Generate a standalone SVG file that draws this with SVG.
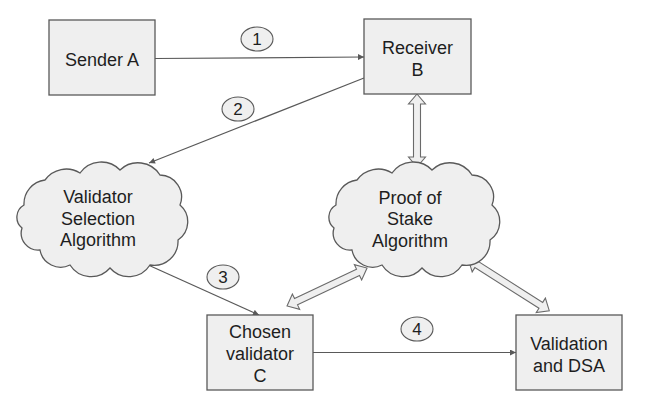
<svg xmlns="http://www.w3.org/2000/svg" width="648" height="409" viewBox="0 0 648 409">
<defs>
<style>
.box{fill:#efefef;stroke:#595959;stroke-width:1.3}
.t{font-family:"Liberation Sans",Arial,sans-serif;font-size:18px;fill:#1e1e1e;text-anchor:middle}
.n{font-family:"Liberation Sans",Arial,sans-serif;font-size:17px;fill:#1e1e1e;text-anchor:middle}
.lbl{fill:#efefef;stroke:#595959;stroke-width:1.1}
.ln{fill:none;stroke:#595959;stroke-width:1.2}
.dbl{fill:#efefef;stroke:#6a6a6a;stroke-width:1.1}
</style>
<marker id="ah" viewBox="0 0 10 10" refX="10" refY="5" markerWidth="7" markerHeight="6" markerUnits="userSpaceOnUse" orient="auto">
<path d="M0,0 L10,5 L0,10 z" fill="#595959"/>
</marker>
<path id="cloud" d="M24,205 A24,24 0 0 1 45,180 A26,26 0 0 1 80,173 A26,26 0 0 1 120,170 A26,26 0 0 1 160,175 A22,22 0 0 1 180,205 A22,22 0 0 1 178,240 A24,24 0 0 1 150,265 A25,25 0 0 1 110,268 A25,25 0 0 1 70,265 A21,21 0 0 1 40,250 A17,17 0 0 1 22,228 A14,14 0 0 1 24,205 Z"/>
</defs>
<rect width="648" height="409" fill="#ffffff"/>
<g id="connectors">
<line class="ln" x1="155" y1="58.5" x2="364" y2="57" marker-end="url(#ah)"/>
<line class="ln" x1="364" y1="78" x2="149" y2="163" marker-end="url(#ah)"/>
<line class="ln" x1="146" y1="264" x2="259" y2="315" marker-end="url(#ah)"/>
<line class="ln" x1="313" y1="352.5" x2="516" y2="352.5" marker-end="url(#ah)"/>
<polygon class="dbl" points="417,94 425.5,104 420.5,104 420.5,157 425.5,157 417,167 408.5,157 413.5,157 413.5,104 408.5,104"/>
<polygon class="dbl" transform="translate(287,306) rotate(-25.4)" points="0,0 10,-8.5 10,-3.5 78.6,-3.5 78.6,-8.5 88.6,0 78.6,8.5 78.6,3.5 10,3.5 10,8.5"/>
<polygon class="dbl" transform="translate(468.3,259.3) rotate(32.4)" points="0,0 10,-8.5 10,-3.5 85.9,-3.5 85.9,-8.5 95.9,0 85.9,8.5 85.9,3.5 10,3.5 10,8.5"/>
<g id="label1"><ellipse class="lbl" cx="257" cy="39" rx="16" ry="12"/><text class="n" x="257" y="45">1</text></g>
<g id="label2"><ellipse class="lbl" cx="238" cy="109" rx="16" ry="12"/><text class="n" x="238" y="115">2</text></g>
<g id="label3"><ellipse class="lbl" cx="223" cy="277" rx="16" ry="12"/><text class="n" x="223" y="283">3</text></g>
<g id="label4"><ellipse class="lbl" cx="417" cy="329" rx="16" ry="12"/><text class="n" x="417" y="335">4</text></g>
</g>
<g id="senderA">
<rect class="box" x="49" y="20" width="106" height="75"/>
<text class="t" x="102" y="66">Sender A</text>
</g>
<g id="receiverB">
<rect class="box" x="364" y="19" width="107" height="75"/>
<text class="t" x="417.5" y="54">Receiver</text>
<text class="t" x="417.5" y="76">B</text>
</g>
<g id="validatorSelection">
<use href="#cloud" class="box"/>
<text class="t" x="98" y="203">Validator</text>
<text class="t" x="98" y="224.5">Selection</text>
<text class="t" x="98" y="246">Algorithm</text>
</g>
<g id="proofOfStake">
<use href="#cloud" class="box" transform="translate(312,0)"/>
<text class="t" x="410" y="203.5">Proof of</text>
<text class="t" x="410" y="225">Stake</text>
<text class="t" x="410" y="246.5">Algorithm</text>
</g>
<g id="chosenValidator">
<rect class="box" x="207" y="315" width="106" height="75"/>
<text class="t" x="260" y="338">Chosen</text>
<text class="t" x="260" y="359.5">validator</text>
<text class="t" x="260" y="381.5">C</text>
</g>
<g id="validationDSA">
<rect class="box" x="516" y="315" width="106" height="75"/>
<text class="t" x="569" y="350">Validation</text>
<text class="t" x="569" y="371.5">and DSA</text>
</g>
</svg>
